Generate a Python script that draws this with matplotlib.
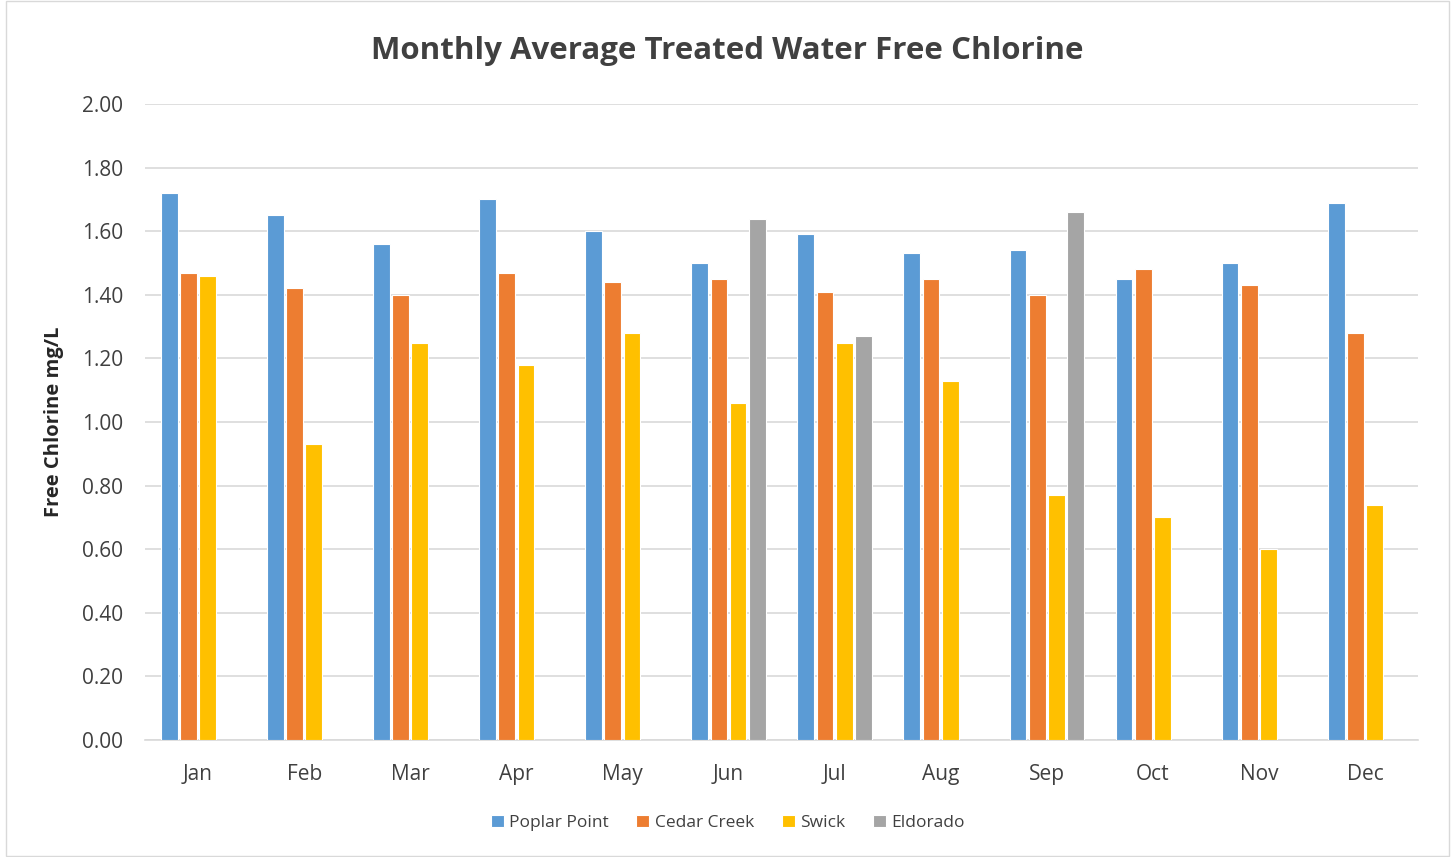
#!/usr/bin/env python3
"""Monthly average treated water free chlorine, clustered bars per plant."""

import numpy as np
import matplotlib
matplotlib.use("Agg")
import matplotlib.pyplot as plt
from matplotlib.patches import Rectangle

months = ["Jan", "Feb", "Mar", "Apr", "May", "Jun",
          "Jul", "Aug", "Sep", "Oct", "Nov", "Dec"]
poplar_point = [1.72, 1.65, 1.56, 1.70, 1.60, 1.50, 1.59, 1.53, 1.54, 1.45, 1.50, 1.69]
cedar_creek = [1.47, 1.42, 1.40, 1.47, 1.44, 1.45, 1.41, 1.45, 1.40, 1.48, 1.43, 1.28]
swick = [1.46, 0.93, 1.25, 1.18, 1.28, 1.06, 1.25, 1.13, 0.77, 0.70, 0.60, 0.74]
nan = np.nan
eldorado = [nan, nan, nan, nan, nan, 1.64, 1.27, nan, 1.66, nan, nan, nan]

series = [
    ("Poplar Point", poplar_point, "#5B9BD5"),
    ("Cedar Creek", cedar_creek, "#ED7D31"),
    ("Swick", swick, "#FFC000"),
    ("Eldorado", eldorado, "#A5A5A5"),
]

plt.rcParams["font.family"] = ["Open Sans", "DejaVu Sans"]
TEXT = "#404040"

fig = plt.figure(figsize=(14.55, 8.57), dpi=100)
ax = fig.add_axes([0.0997, 0.1365, 0.8749, 0.7421])

x = np.arange(len(months))
slot = 0.181
width = 0.158
for i, (name, vals, color) in enumerate(series):
    ax.bar(x + (i - 1.5) * slot, vals, width=width, color=color,
           edgecolor="white", linewidth=0.8, label=name, zorder=3)

ax.set_xlim(-0.5, len(months) - 0.5)
ax.set_ylim(0, 2.0)
ax.set_yticks(np.arange(0, 2.01, 0.2))
ax.set_yticklabels([f"{v:.2f}" for v in np.arange(0, 2.01, 0.2)])
ax.set_xticks(x)
ax.set_xticklabels(months)
ax.tick_params(axis="both", length=0, labelsize=15, labelcolor=TEXT)
ax.tick_params(axis="y", pad=16)
ax.tick_params(axis="x", pad=17)
ax.grid(axis="y", color="#D9D9D9", linewidth=1.2, zorder=0)
for side in ["top", "right", "left"]:
    ax.spines[side].set_visible(False)
ax.spines["bottom"].set_color("#D9D9D9")
ax.spines["bottom"].set_linewidth(1.2)

ax.set_ylabel("Free Chlorine mg/L", fontsize=14.5, fontweight="bold",
              color="#262626", labelpad=13)
fig.text(0.5, 0.941, "Monthly Average Treated Water Free Chlorine",
         ha="center", va="center", fontsize=22.5, fontweight="bold", color="#404040")

fig.legend(loc="center", bbox_to_anchor=(0.5, 0.040), ncol=4, frameon=False,
           fontsize=12.5, handlelength=0.75, handleheight=0.75,
           handletextpad=0.3, columnspacing=1.6, labelcolor=TEXT)

fig.patches.append(Rectangle((0.004, 0.001), 0.992, 0.998, transform=fig.transFigure,
                             fill=False, edgecolor="#D9D9D9", linewidth=1.0))

fig.savefig("out.png", dpi=100)
